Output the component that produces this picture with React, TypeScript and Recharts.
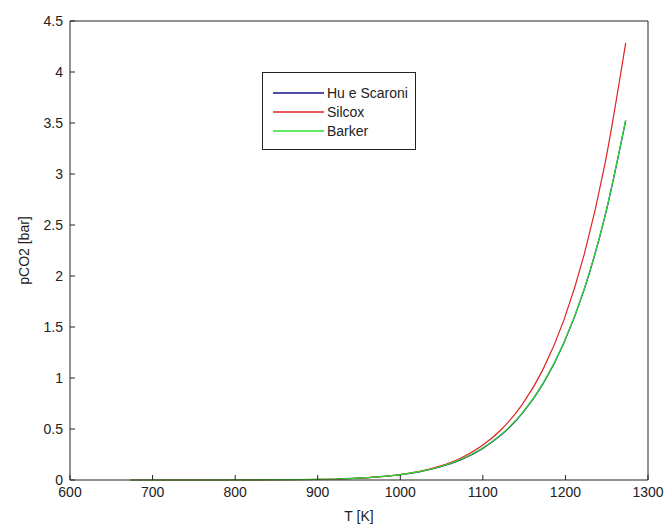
import { LineChart, Line, XAxis, YAxis } from 'recharts';

const temps = [673, 723, 773, 823, 873, 898, 923, 948, 973, 998, 1023, 1048, 1073, 1098, 1123, 1148, 1173, 1198, 1223, 1248, 1273];
const huScaroni = [null, null, null, null, null, null, 0.01, 0.0176, 0.03, 0.0498, 0.0806, 0.1276, 0.1977, 0.3003, 0.4476, 0.6551, 0.9446, 1.341, 1.874, 2.589, 3.527];
const silcox = [0, 0.00002, 0.00013, 0.00065, 0.0027, 0.0052, 0.0096, 0.0173, 0.0301, 0.0509, 0.0841, 0.1356, 0.2137, 0.33, 0.5, 0.744, 1.087, 1.565, 2.22, 3.104, 4.285];
const barker = [0, 0.00001, 0.0002, 0.0008, 0.003, 0.0055, 0.01, 0.018, 0.031, 0.051, 0.082, 0.13, 0.201, 0.304, 0.452, 0.66, 0.95, 1.346, 1.88, 2.594, 3.53];

const xTicks = [600, 700, 800, 900, 1000, 1100, 1200, 1300];
const yTicks = [0, 0.5, 1, 1.5, 2, 2.5, 3, 3.5, 4, 4.5];

const seriesNames = ['Hu e Scaroni', 'Silcox', 'Barker'];
const seriesColors = ['#14148c', '#e02424', '#2ee02e'];

const toPoints = (vals: (number | null)[]) =>
  temps.map((t, i) => ({ t, p: vals[i] })).filter((d) => d.p !== null);

const font = { fontFamily: '"Liberation Sans", Arial, sans-serif', fontSize: 14, fill: '#222' };

function LegendBox() {
  return (
    <div
      style={{
        position: 'absolute',
        left: 262,
        top: 72,
        border: '1px solid #222',
        background: '#fff',
        width: 152,
        padding: '10px 0 9px',
        fontFamily: '"Liberation Sans", Arial, sans-serif',
        fontSize: 14,
        color: '#222',
      }}
    >
      {seriesNames.map((name, i) => (
        <div key={name} style={{ display: 'flex', alignItems: 'center', height: 19 }}>
          <svg width={62} height={10}>
            <line x1={10} x2={61} y1={5} y2={5} stroke={seriesColors[i]} strokeWidth={1.3} />
          </svg>
          <span style={{ marginLeft: 2 }}>{name}</span>
        </div>
      ))}
    </div>
  );
}

export default function App() {
  return (
    <div style={{ position: 'absolute', left: 0, top: 0, width: 665, height: 525, background: '#fff' }}>
      <LineChart width={665} height={525} margin={{ top: 20, right: 16, bottom: 0, left: 0 }}>
        <XAxis
          xAxisId="bottom"
          dataKey="t"
          type="number"
          domain={[600, 1300]}
          ticks={xTicks}
          height={45}
          tickSize={-5}
          tickMargin={12}
          stroke="#222"
          tick={font}
          allowDuplicatedCategory={false}
          label={{ value: 'T [K]', position: 'insideBottom', offset: 4, style: font }}
        />
        <XAxis
          xAxisId="top"
          orientation="top"
          dataKey="t"
          type="number"
          domain={[600, 1300]}
          ticks={xTicks}
          height={1}
          tickSize={-5}
          tick={false}
          stroke="#222"
          allowDuplicatedCategory={false}
        />
        <YAxis
          yAxisId="left"
          type="number"
          domain={[0, 4.5]}
          ticks={yTicks}
          width={70}
          tickSize={-5}
          tickMargin={12}
          stroke="#222"
          tick={font}
          label={{ value: 'pCO2 [bar]', angle: -90, position: 'insideLeft', offset: 24, style: { ...font, textAnchor: 'middle' } }}
        />
        <YAxis
          yAxisId="right"
          orientation="right"
          type="number"
          domain={[0, 4.5]}
          ticks={yTicks}
          width={1}
          tickSize={-5}
          tick={false}
          stroke="#222"
        />
        <Line
          xAxisId="bottom"
          yAxisId="left"
          data={toPoints(huScaroni)}
          dataKey="p"
          name={seriesNames[0]}
          type="monotone"
          stroke={seriesColors[0]}
          strokeWidth={1.3}
          dot={false}
          isAnimationActive={false}
        />
        <Line
          xAxisId="bottom"
          yAxisId="left"
          data={toPoints(silcox)}
          dataKey="p"
          name={seriesNames[1]}
          type="monotone"
          stroke={seriesColors[1]}
          strokeWidth={1.2}
          dot={false}
          isAnimationActive={false}
        />
        <Line
          xAxisId="bottom"
          yAxisId="left"
          data={toPoints(barker)}
          dataKey="p"
          name={seriesNames[2]}
          type="monotone"
          stroke={seriesColors[2]}
          strokeWidth={1.2}
          dot={false}
          isAnimationActive={false}
        />
      </LineChart>
      <LegendBox />
    </div>
  );
}
